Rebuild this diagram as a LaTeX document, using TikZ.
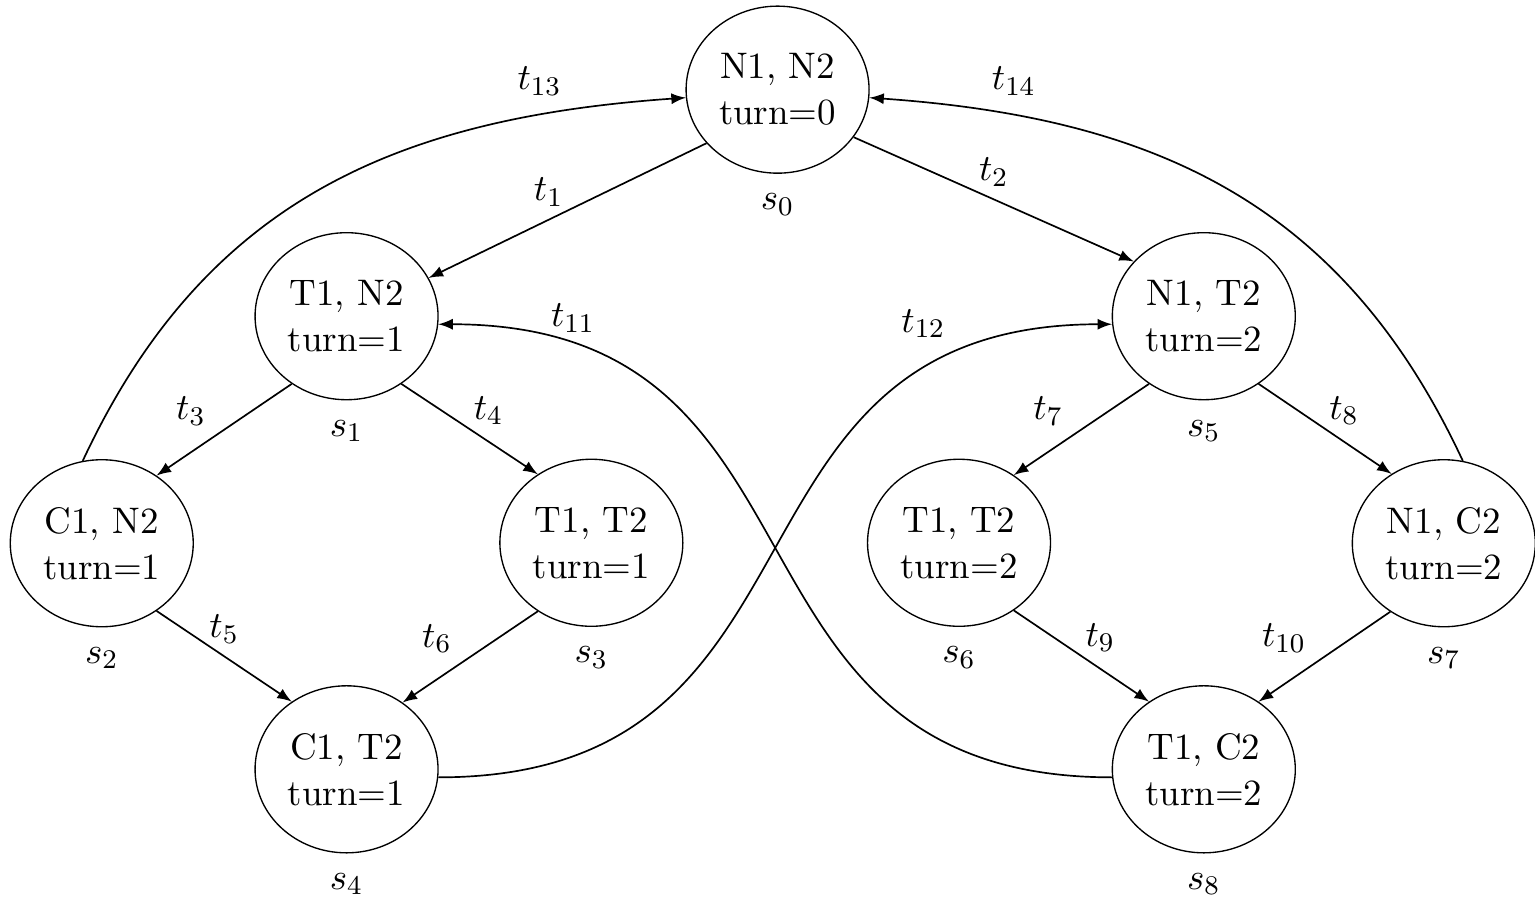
\documentclass[tikz,border=0pt,11pt]{standalone}
\usepackage{amsmath,amssymb}
\usepackage{tikz}
\usetikzlibrary{shapes,arrows,positioning}

\begin{document}
\begin{tikzpicture}[
    state/.style={ellipse, draw, minimum width=1.906cm, minimum height=1.74cm, inner sep=0pt, align=center},
    arrow/.style={->, >=latex, line width=0.5pt},
    tleft/.style={above left, inner sep=1pt, xshift=-1.5mm},
    tright/.style={above right, inner sep=1pt},
    label distance=2pt
]
\useasboundingbox (0,0) rectangle (15.99,9.344);

% states of the two processes
\node[state, label=below:$s_0$] (s0) at (8.10,8.41) {N1, N2\\turn=0};
\node[state, label=below:$s_1$] (s1) at (3.61,6.05) {T1, N2\\turn=1};
\node[state, label=below:$s_5$] (s5) at (12.54,6.05) {N1, T2\\turn=2};
\node[state, label=below:$s_2$] (s2) at (1.06,3.685) {C1, N2\\turn=1};
\node[state, label=below:$s_3$] (s3) at (6.16,3.69) {T1, T2\\turn=1};
\node[state, label=below:$s_6$] (s6) at (9.99,3.69) {T1, T2\\turn=2};
\node[state, label=below:$s_7$] (s7) at (15.04,3.685) {N1, C2\\turn=2};
\node[state, label=below:$s_4$] (s4) at (3.61,1.33) {C1, T2\\turn=1};
\node[state, label=below:$s_8$] (s8) at (12.54,1.33) {T1, C2\\turn=2};

% transitions
\draw[arrow] (s0.217) -- node[above left, inner sep=1pt] {$t_1$} (s1.25);
\draw[arrow] (s0.328) -- node[above] {$t_2$} (s5.142);
\draw[arrow] (s1.231) -- node[tleft] {$t_3$} (s2.51);
\draw[arrow] (s1.309) -- node[tright] {$t_4$} (s3.128);
\draw[arrow] (s2.309) -- node[above] {$t_5$} (s4.129);
\draw[arrow] (s3.232) -- node[tleft] {$t_6$} (s4.50);
\draw[arrow] (s5.231) -- node[tleft] {$t_7$} (s6.51);
\draw[arrow] (s5.309) -- node[tright] {$t_8$} (s7.127);
\draw[arrow] (s6.309) -- node[tright] {$t_9$} (s8.129);
\draw[arrow] (s7.232) -- node[tleft] {$t_{10}$} (s8.51);

% back to the start and across
\draw[arrow] (s8.185) to[out=180, in=0, looseness=1.3] node[pos=0.87, above] {$t_{11}$} (s1.-5);
\draw[arrow] (s4.-5) to[out=0, in=180, looseness=1.3] node[pos=0.8, above=6pt] {$t_{12}$} (s5.185);
\draw[arrow] (s2.103) to[out=65, in=184, looseness=1.05] node[pos=0.82, above=2pt] {$t_{13}$} (s0.185);
\draw[arrow] (s7.77) to[out=115, in=-4, looseness=1.05] node[pos=0.82, above=2pt] {$t_{14}$} (s0.-5);

\end{tikzpicture}
\end{document}
